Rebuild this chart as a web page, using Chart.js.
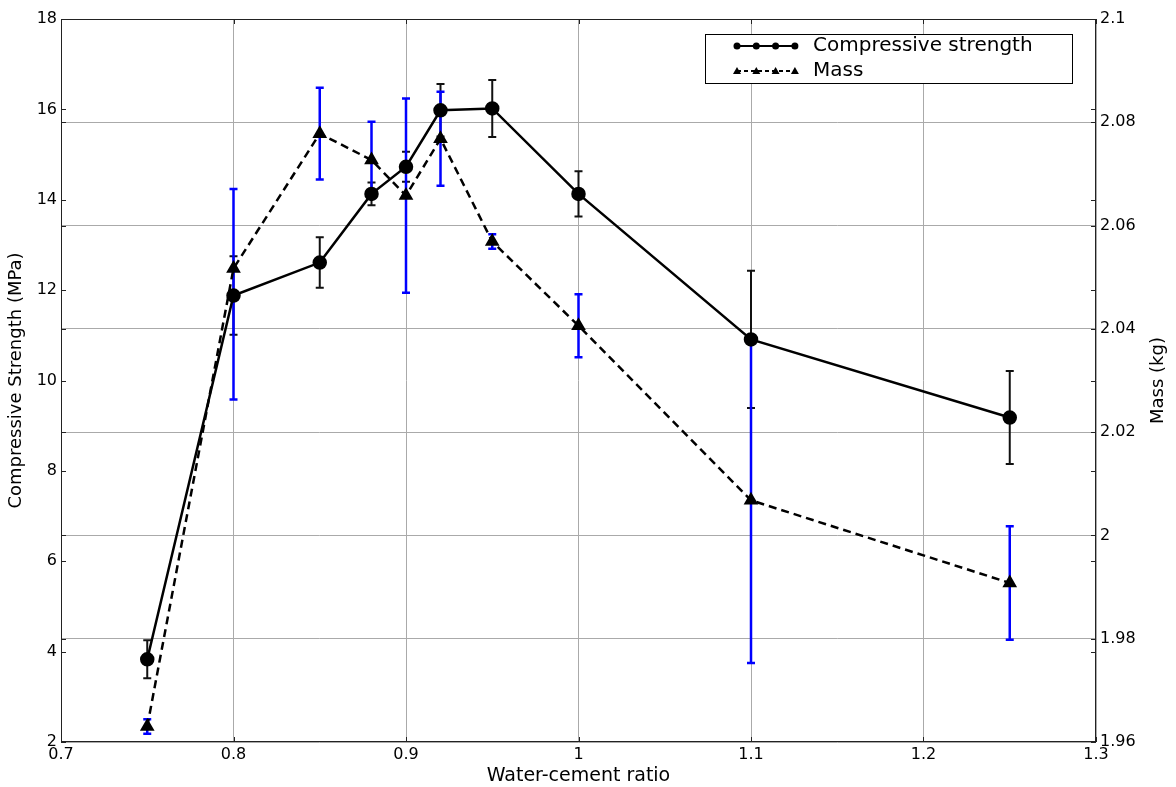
<!DOCTYPE html>
<html>
<head>
<meta charset="utf-8">
<script src="https://cdn.jsdelivr.net/npm/chart.js@4"></script>
<style>
  html, body { margin: 0; padding: 0; background: #fff; }
  #wrap { width: 1176px; height: 787px; position: relative; }
</style>
</head>
<body>
<div id="wrap"><canvas id="wcChart"></canvas></div>
<script>
// water-cement ratio of each mix
const ratio = [0.75, 0.8, 0.85, 0.88, 0.9, 0.92, 0.95, 1.0, 1.1, 1.25];

// compressive strength (MPa) and its error
const strength = [3.83, 11.88, 12.61, 14.13, 14.73, 15.98, 16.02, 14.13, 10.91, 9.18];
const strengthErr = [0.42, 0.87, 0.56, 0.25, 0.33, 0.58, 0.63, 0.50, 1.52, 1.03];

// mass (kg) with lower / upper error
const mass = [1.9630, 2.0517, 2.0778, 2.0727, 2.0658, 2.0768, 2.0569, 2.0406, 2.0068, 1.9908];
const massErrLo = [0.0014, 0.0254, 0.0089, 0.0074, 0.0188, 0.0091, 0.0014, 0.0061, 0.0315, 0.0110];
const massErrHi = [0.0014, 0.0154, 0.0089, 0.0074, 0.0188, 0.0091, 0.0014, 0.0061, 0.0315, 0.0110];

// axis ticks
const xTicks = [0.7, 0.8, 0.9, 1.0, 1.1, 1.2, 1.3];
const strengthTicks = [2, 4, 6, 8, 10, 12, 14, 16, 18];
const massTicks = [1.96, 1.98, 2.0, 2.02, 2.04, 2.06, 2.08, 2.1];

const FONT = "'DejaVu Sans', sans-serif";
const fmt = v => String(+v.toFixed(2));

// error bars: strength in black, mass in blue
const errorBars = {
    id: "errorBars",
    beforeDatasetsDraw(chart) {
        const ctx = chart.ctx;
        const x = chart.scales.x;
        const draw = (scale, vals, lo, hi, color, width) => {
            ctx.save();
            ctx.strokeStyle = color;
            ctx.lineWidth = width;
            vals.forEach((v, i) => {
                const px = x.getPixelForValue(ratio[i]);
                const top = scale.getPixelForValue(v + hi[i]);
                const bot = scale.getPixelForValue(v - lo[i]);
                ctx.beginPath();
                ctx.moveTo(px, top); ctx.lineTo(px, bot);
                ctx.moveTo(px - 4, top); ctx.lineTo(px + 4, top);
                ctx.moveTo(px - 4, bot); ctx.lineTo(px + 4, bot);
                ctx.stroke();
            });
            ctx.restore();
        };
        draw(chart.scales.y, strength, strengthErr, strengthErr, "#111", 2);
        draw(chart.scales.y2, mass, massErrLo, massErrHi, "#0000ff", 2.5);
    }
};

// frame, inward tick marks, right title and the legend box
const decorations = {
    id: "decorations",
    afterDraw(chart) {
        const ctx = chart.ctx;
        const a = chart.chartArea;
        const sx = chart.scales.x, sy = chart.scales.y, sy2 = chart.scales.y2;
        ctx.save();
        ctx.strokeStyle = "#222";
        ctx.lineWidth = 1;
        ctx.strokeRect(a.left + 0.5, a.top + 0.5, a.right - a.left - 1, a.bottom - a.top - 1);

        ctx.beginPath();
        xTicks.forEach(v => {
            const p = Math.round(sx.getPixelForValue(v)) + 0.5;
            ctx.moveTo(p, a.bottom); ctx.lineTo(p, a.bottom - 5);
            ctx.moveTo(p, a.top); ctx.lineTo(p, a.top + 5);
        });
        strengthTicks.forEach(v => {
            const p = Math.round(sy.getPixelForValue(v)) + 0.5;
            ctx.moveTo(a.left, p); ctx.lineTo(a.left + 5, p);
            ctx.moveTo(a.right, p); ctx.lineTo(a.right - 5, p);
        });
        massTicks.forEach(v => {
            const p = Math.round(sy2.getPixelForValue(v)) + 0.5;
            ctx.moveTo(a.left, p); ctx.lineTo(a.left + 5, p);
            ctx.moveTo(a.right, p); ctx.lineTo(a.right - 5, p);
        });
        ctx.stroke();

        // right axis title, reading upwards
        ctx.fillStyle = "#000";
        ctx.font = "18px " + FONT;
        ctx.textAlign = "center";
        ctx.textBaseline = "middle";
        ctx.translate(1158, (a.top + a.bottom) / 2);
        ctx.rotate(-Math.PI / 2);
        ctx.fillText("Mass (kg)", 0, 0);
        ctx.setTransform(1, 0, 0, 1, 0, 0);

        // legend
        const lx = a.right - 391, ly = a.top + 15;
        ctx.fillStyle = "#fff";
        ctx.fillRect(lx, ly, 367, 49);
        ctx.strokeStyle = "#000";
        ctx.strokeRect(lx + 0.5, ly + 0.5, 367, 49);
        const rows = [
            { label: "Compressive strength", dash: [], marker: "circle", y: ly + 12 },
            { label: "Mass", dash: [4, 3], marker: "triangle", y: ly + 37 }
        ];
        rows.forEach(r => {
            ctx.strokeStyle = "#000";
            ctx.lineWidth = 2;
            ctx.setLineDash(r.dash);
            ctx.beginPath();
            ctx.moveTo(lx + 32, r.y); ctx.lineTo(lx + 90, r.y);
            ctx.stroke();
            ctx.setLineDash([]);
            ctx.fillStyle = "#000";
            for (let k = 0; k < 4; k++) {
                const mx = lx + 32 + k * 19.3;
                ctx.beginPath();
                if (r.marker === "circle") {
                    ctx.arc(mx, r.y, 3.5, 0, Math.PI * 2);
                } else {
                    ctx.moveTo(mx, r.y - 4);
                    ctx.lineTo(mx + 4, r.y + 3);
                    ctx.lineTo(mx - 4, r.y + 3);
                    ctx.closePath();
                }
                ctx.fill();
            }
            ctx.font = "20px " + FONT;
            ctx.textAlign = "left";
            ctx.textBaseline = "middle";
            ctx.fillText(r.label, lx + 108, r.y);
        });
        ctx.restore();
    }
};

new Chart(document.getElementById("wcChart"), {
    type: "line",
    data: {
        datasets: [{
            label: "Compressive strength",
            data: ratio.map((r, i) => ({ x: r, y: strength[i] })),
            yAxisID: "y",
            borderColor: "#000",
            backgroundColor: "#000",
            borderWidth: 2.5,
            pointStyle: "circle",
            pointRadius: 6,
            tension: 0,
            order: 1
        }, {
            label: "Mass",
            data: ratio.map((r, i) => ({ x: r, y: mass[i] })),
            yAxisID: "y2",
            borderColor: "#000",
            backgroundColor: "#000",
            borderWidth: 2.5,
            borderDash: [8, 5],
            pointStyle: "triangle",
            pointRadius: 6,
            tension: 0,
            order: 2
        }]
    },
    options: {
        responsive: true,
        maintainAspectRatio: false,
        animation: false,
        layout: { padding: { top: 19, left: 0, right: 0, bottom: 0 } },
        plugins: {
            legend: { display: false },
            tooltip: { enabled: false }
        },
        scales: {
            x: {
                type: "linear",
                min: 0.7,
                max: 1.3,
                afterBuildTicks: s => { s.ticks = xTicks.map(v => ({ value: v })); },
                afterFit: s => { s.height = 45; },
                border: { display: false },
                grid: { color: "#aaaaaa", lineWidth: 1, drawTicks: false },
                ticks: {
                    color: "#000",
                    padding: 3,
                    font: { family: FONT, size: 16 },
                    callback: v => fmt(v)
                },
                title: {
                    display: true,
                    text: "Water-cement ratio",
                    color: "#000",
                    font: { family: FONT, size: 19 },
                    padding: { top: 2, bottom: 0 }
                }
            },
            y: {
                position: "left",
                min: 2,
                max: 18,
                afterBuildTicks: s => { s.ticks = strengthTicks.map(v => ({ value: v })); },
                afterFit: s => { s.width = 61; },
                border: { display: false },
                grid: { drawOnChartArea: false, drawTicks: false },
                ticks: {
                    color: "#000",
                    padding: 4,
                    font: { family: FONT, size: 16 },
                    callback: v => fmt(v)
                },
                title: {
                    display: true,
                    text: "Compressive Strength (MPa)",
                    color: "#000",
                    font: { family: FONT, size: 18 },
                    padding: { top: 6, bottom: 0 }
                }
            },
            y2: {
                position: "right",
                min: 1.96,
                max: 2.1,
                afterBuildTicks: s => { s.ticks = massTicks.map(v => ({ value: v })); },
                afterFit: s => { s.width = 80; },
                border: { display: false },
                grid: { color: "#aaaaaa", lineWidth: 1, drawTicks: false },
                ticks: {
                    color: "#000",
                    padding: 4,
                    font: { family: FONT, size: 16 },
                    callback: v => fmt(v)
                }
            }
        }
    },
    plugins: [errorBars, decorations]
});
</script>
</body>
</html>
